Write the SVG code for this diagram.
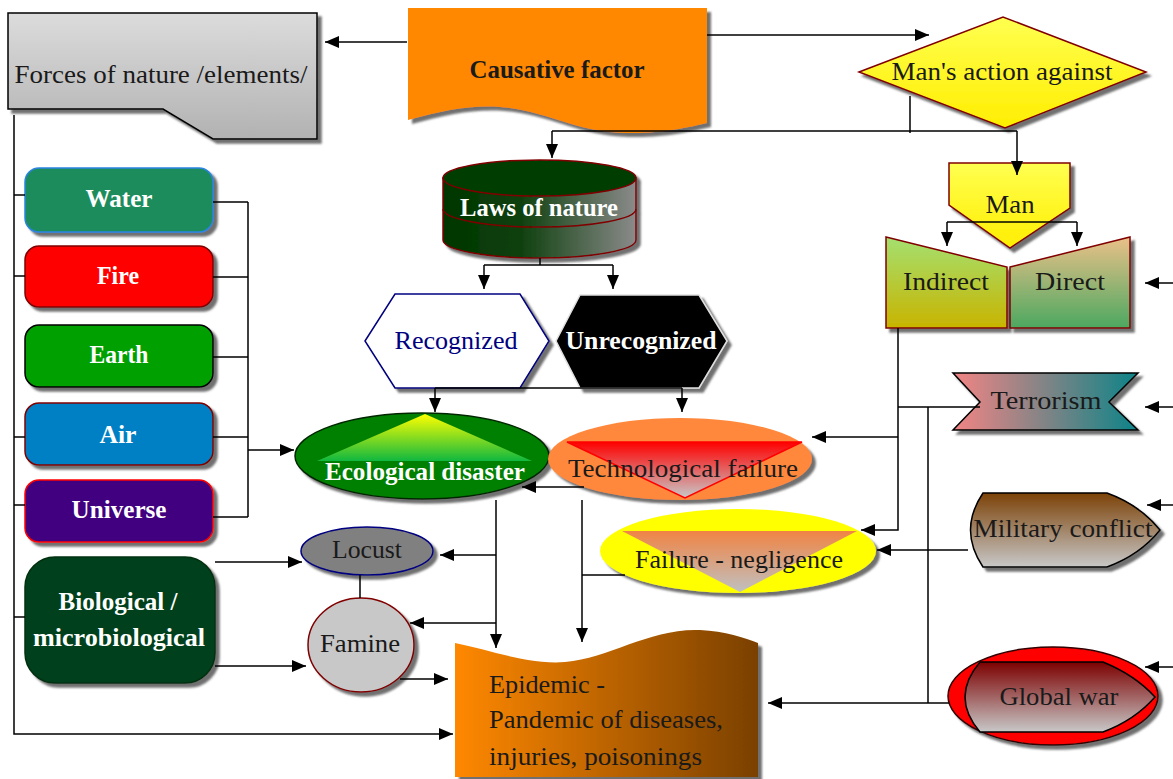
<svg xmlns="http://www.w3.org/2000/svg" width="1173" height="779" viewBox="0 0 1173 779">
<defs>
<style>
.t{font-family:"Liberation Serif","Times New Roman",serif;font-size:25px;fill:#1a1a1a;text-anchor:middle}
.w{fill:#fff;font-weight:bold}
.ts{text-anchor:start}
.c{fill:none;stroke:#000;stroke-width:1.5}
.a{marker-end:url(#ah)}
.n{filter:url(#sh)}
</style>
<filter id="sh" x="-10%" y="-10%" width="125%" height="130%">
<feDropShadow dx="4" dy="4" stdDeviation="0.8" flood-color="#404040" flood-opacity="0.75"/>
</filter>
<marker id="ah" markerUnits="userSpaceOnUse" markerWidth="14" markerHeight="12" refX="14" refY="6" orient="auto">
<path d="M0,0 L14,6 L0,12 Z" fill="#000"/>
</marker>
<linearGradient id="gForces" x1="0" y1="0" x2="0" y2="1"><stop offset="0" stop-color="#dcdcdc"/><stop offset="1" stop-color="#b2b2b2"/></linearGradient>
<linearGradient id="gLaws" x1="0" y1="0" x2="1" y2="0"><stop offset="0" stop-color="#003600"/><stop offset="0.4" stop-color="#0e400e"/><stop offset="1" stop-color="#8a8a8a"/></linearGradient>
<linearGradient id="gYel" x1="0" y1="0" x2="0" y2="1"><stop offset="0" stop-color="#ffff50"/><stop offset="1" stop-color="#ffee00"/></linearGradient>
<linearGradient id="gInd" x1="0" y1="0" x2="0" y2="1"><stop offset="0" stop-color="#a4e070"/><stop offset="1" stop-color="#c8b400"/></linearGradient>
<linearGradient id="gDir" x1="0" y1="0" x2="0" y2="1"><stop offset="0" stop-color="#eac088"/><stop offset="1" stop-color="#4ca860"/></linearGradient>
<linearGradient id="gTer" x1="0" y1="0" x2="1" y2="0"><stop offset="0" stop-color="#f48484"/><stop offset="1" stop-color="#0c8488"/></linearGradient>
<linearGradient id="gMil" x1="0" y1="0" x2="0" y2="1"><stop offset="0" stop-color="#7c4208"/><stop offset="1" stop-color="#c8c8c8"/></linearGradient>
<linearGradient id="gGlob" x1="0" y1="0" x2="0" y2="1"><stop offset="0" stop-color="#7c0000"/><stop offset="1" stop-color="#c8c8c8"/></linearGradient>
<linearGradient id="gEco" x1="0" y1="0" x2="0" y2="1"><stop offset="0" stop-color="#ffff00"/><stop offset="1" stop-color="#10b840"/></linearGradient>
<linearGradient id="gTech" x1="0" y1="0" x2="0" y2="1"><stop offset="0" stop-color="#ff0000"/><stop offset="1" stop-color="#c8c8c8"/></linearGradient>
<linearGradient id="gFail" x1="0" y1="0" x2="0" y2="1"><stop offset="0" stop-color="#f08444"/><stop offset="1" stop-color="#c0c0c0"/></linearGradient>
<linearGradient id="gEpi" x1="0" y1="0" x2="1" y2="0"><stop offset="0" stop-color="#ff8800"/><stop offset="1" stop-color="#7a4000"/></linearGradient>
</defs>
<rect width="1173" height="779" fill="#fff"/>

<g id="forces">
<path class="n" d="M8,13 L317,13 L317,139 L213,139 L163,109 L8,109 Z" fill="url(#gForces)" stroke="#000" stroke-width="1.5"/>
<text class="t" x="161" y="83" textLength="293" lengthAdjust="spacingAndGlyphs">Forces of nature /elements/</text>
</g>

<g id="causative">
<path class="n" d="M408,8 L707,8 L707,123 C690,127 660,134 625,133 C575,132 545,110 500,107 C470,105 445,110 408,120 Z" fill="#ff8800"/>
<text class="t" x="557" y="78" font-weight="bold" textLength="175" lengthAdjust="spacingAndGlyphs">Causative factor</text>
</g>

<g id="mans-action">
<path class="n" d="M859,72 L1003,17 L1146,72 L1005,128 Z" fill="url(#gYel)" stroke="#800000" stroke-width="1.5"/>
<text class="t" x="1002" y="80" textLength="221" lengthAdjust="spacingAndGlyphs">Man's action against</text>
</g>

<g id="laws">
<g class="n">
<path d="M443,178 L443,240 A96.5,18 0 0 0 636,240 L636,178 Z" fill="url(#gLaws)" stroke="#800000" stroke-width="1.5"/>
<path d="M443,209 A96.5,18 0 0 0 636,209" fill="none" stroke="#800000" stroke-width="1.5"/>
<ellipse cx="539.5" cy="178" rx="96.5" ry="18" fill="#003c00" stroke="#800000" stroke-width="1.5"/>
</g>
<text class="t w" x="539" y="216" textLength="158" lengthAdjust="spacingAndGlyphs">Laws of nature</text>
</g>

<g id="recognized">
<polygon class="n" points="365,341 395,294 520,294 549,341 520,388 395,388" fill="#fff" stroke="#000080" stroke-width="1.5"/>
<text class="t" x="456" y="349" style="fill:#000080" textLength="123" lengthAdjust="spacingAndGlyphs">Recognized</text>
</g>

<g id="unrecognized">
<polygon class="n" points="556,341 580,295 699,295 727,341 699,388 580,388" fill="#000" stroke="#e0e0e0" stroke-width="1.5"/>
<text class="t w" x="641" y="349" textLength="151" lengthAdjust="spacingAndGlyphs">Unrecognized</text>
</g>

<g id="water">
<rect class="n" x="25" y="168" width="188" height="64" rx="14" fill="#1a8c5c" stroke="#2a84e0" stroke-width="1.5"/>
<text class="t w" x="119" y="207" textLength="67" lengthAdjust="spacingAndGlyphs">Water</text>
</g>
<g id="fire">
<rect class="n" x="25" y="246" width="188" height="61" rx="14" fill="#ff0000" stroke="#800000" stroke-width="1.5"/>
<text class="t w" x="118" y="284" textLength="42" lengthAdjust="spacingAndGlyphs">Fire</text>
</g>
<g id="earth">
<rect class="n" x="25" y="325" width="188" height="62" rx="14" fill="#00a000" stroke="#000" stroke-width="1.5"/>
<text class="t w" x="119" y="363" textLength="59" lengthAdjust="spacingAndGlyphs">Earth</text>
</g>
<g id="air">
<rect class="n" x="25" y="403" width="188" height="62" rx="14" fill="#0080c4" stroke="#800000" stroke-width="1.5"/>
<text class="t w" x="118" y="443" textLength="37" lengthAdjust="spacingAndGlyphs">Air</text>
</g>
<g id="universe">
<rect class="n" x="25" y="480" width="188" height="62" rx="14" fill="#400080" stroke="#ff0000" stroke-width="1.5"/>
<text class="t w" x="119" y="518" textLength="95" lengthAdjust="spacingAndGlyphs">Universe</text>
</g>
<g id="biological">
<rect class="n" x="25" y="557" width="190" height="126" rx="30" fill="#00401a" stroke="#003010" stroke-width="1.5"/>
<text class="t w" x="118" y="610" textLength="119" lengthAdjust="spacingAndGlyphs">Biological /</text>
<text class="t w" x="119" y="646" textLength="172" lengthAdjust="spacingAndGlyphs">microbiological</text>
</g>

<g id="ecological">
<ellipse class="n" cx="422" cy="456" rx="127" ry="43" fill="#008000" stroke="#002800" stroke-width="1.5"/>
<polygon points="425,414 317,461 532,461" fill="url(#gEco)"/>
<text class="t w" x="425" y="480" textLength="200" lengthAdjust="spacingAndGlyphs">Ecological disaster</text>
</g>

<g id="technological">
<ellipse class="n" cx="680" cy="459" rx="132" ry="41" fill="#ff883c"/>
<polygon points="567,442 802,442 685,498" fill="url(#gTech)" stroke="#ff0000" stroke-width="1.5"/>
<text class="t" x="683" y="477" textLength="230" lengthAdjust="spacingAndGlyphs">Technological failure</text>
</g>

<g id="negligence">
<ellipse class="n" cx="738" cy="551" rx="138" ry="42" fill="#ffff00"/>
<polygon points="622,531 857,531 740,592" fill="url(#gFail)"/>
<text class="t" x="739" y="568" textLength="208" lengthAdjust="spacingAndGlyphs">Failure - negligence</text>
</g>

<g id="locust">
<ellipse class="n" cx="367" cy="551" rx="66" ry="24" fill="#808080" stroke="#000080" stroke-width="1.5"/>
<text class="t" x="367" y="558" textLength="70" lengthAdjust="spacingAndGlyphs">Locust</text>
</g>

<g id="famine">
<ellipse class="n" cx="361" cy="645" rx="53" ry="47" fill="#c8c8c8" stroke="#800000" stroke-width="1.5"/>
<text class="t" x="360" y="652" textLength="80" lengthAdjust="spacingAndGlyphs">Famine</text>
</g>

<g id="epidemic">
<path class="n" d="M455,643 C490,650 530,665 565,662 C610,658 650,628 700,630 C725,631 745,638 758,643 L758,777 L455,777 Z" fill="url(#gEpi)"/>
<text class="t ts" x="489" y="693" textLength="116" lengthAdjust="spacingAndGlyphs">Epidemic -</text>
<text class="t ts" x="489" y="728" textLength="234" lengthAdjust="spacingAndGlyphs">Pandemic of diseases,</text>
<text class="t ts" x="489" y="765" textLength="213" lengthAdjust="spacingAndGlyphs">injuries, poisonings</text>
</g>

<g id="man">
<polygon class="n" points="949,163 1070,163 1070,208 1010,248 949,205" fill="url(#gYel)" stroke="#800000" stroke-width="1.5"/>
<text class="t" x="1010" y="213" textLength="49" lengthAdjust="spacingAndGlyphs">Man</text>
</g>

<g id="indirect">
<polygon class="n" points="886,237 1007,267 1007,328 886,328" fill="url(#gInd)" stroke="#800000" stroke-width="1.5"/>
<text class="t" x="946" y="290" textLength="86" lengthAdjust="spacingAndGlyphs">Indirect</text>
</g>

<g id="direct">
<polygon class="n" points="1010,267 1130,237 1130,328 1010,328" fill="url(#gDir)" stroke="#800000" stroke-width="1.5"/>
<text class="t" x="1070" y="290" textLength="70" lengthAdjust="spacingAndGlyphs">Direct</text>
</g>

<g id="terrorism">
<polygon class="n" points="953,373 1138,373 1109,402 1138,430 953,430 980,402" fill="url(#gTer)" stroke="#000" stroke-width="1.5"/>
<text class="t" x="1046" y="409" textLength="111" lengthAdjust="spacingAndGlyphs">Terrorism</text>
</g>

<g id="military">
<path class="n" d="M983,493 L1107,493 Q1140,505 1160,530 Q1140,555 1107,567 L983,567 Q958,530 983,493 Z" fill="url(#gMil)" stroke="#000" stroke-width="1.5"/>
<text class="t" x="1063" y="537" textLength="179" lengthAdjust="spacingAndGlyphs">Military conflict</text>
</g>

<g id="global-war">
<ellipse class="n" cx="1053" cy="696" rx="105" ry="49" fill="#ff0000" stroke="#300000" stroke-width="1.5"/>
<path d="M980,662 L1103,662 Q1135,675 1155,697 Q1135,720 1103,732 L980,732 Q950,697 980,662 Z" fill="url(#gGlob)" stroke="#000" stroke-width="1.5"/>
<text class="t" x="1059" y="705" textLength="119" lengthAdjust="spacingAndGlyphs">Global war</text>
</g>

<g id="connectors">
<path class="c a" d="M407,42 L325,42"/>
<path class="c a" d="M707,35 L929,35"/>
<path class="c" d="M552,131 L1017,131 M910,96 L910,133"/>
<path class="c a" d="M552,131 L552,158"/>
<path class="c a" d="M1017,131 L1017,175"/>
<path class="c" d="M540,258 L540,265 M484,265 L613,265"/>
<path class="c a" d="M484,265 L484,289"/>
<path class="c a" d="M613,265 L613,289"/>
<path class="c" d="M435,388 L682,388"/>
<path class="c a" d="M435,388 L435,412"/>
<path class="c a" d="M682,388 L682,412"/>
<path class="c" d="M213,202 L248,202 M213,277 L248,277 M213,357 L248,357 M213,437 L248,437 M213,517 L248,517 M248,202 L248,517"/>
<path class="c a" d="M248,450 L294,450"/>
<path class="c" d="M14,195 L25,195 M14,276 L25,276 M14,437 L25,437 M14,505 L25,505 M14,617 L25,617"/>
<path class="c a" d="M14,115 L14,734 L453,734"/>
<path class="c a" d="M215,562 L302,562"/>
<path class="c a" d="M215,666 L306,666"/>
<path class="c" d="M360,575 L360,598"/>
<path class="c a" d="M400,679 L448,679"/>
<path class="c a" d="M496,500 L496,648"/>
<path class="c a" d="M496,555 L440,555"/>
<path class="c a" d="M496,623 L410,623"/>
<path class="c a" d="M584,487 L522,487"/>
<path class="c a" d="M582,500 L582,642"/>
<path class="c" d="M582,575 L625,575"/>
<path class="c a" d="M898,328 L898,530 L861,530"/>
<path class="c a" d="M898,437 L812,437"/>
<path class="c" d="M980,407 L898,407 M928,407 L928,703"/>
<path class="c a" d="M949,703 L768,703"/>
<path class="c a" d="M968,550 L877,550"/>
<path class="c" d="M947,222 L1077,222"/>
<path class="c a" d="M947,222 L947,246"/>
<path class="c a" d="M1077,222 L1077,246"/>
<path class="c a" d="M1173,283 L1145,283"/>
<path class="c a" d="M1173,407 L1145,407"/>
<path class="c a" d="M1173,505 L1147,505"/>
<path class="c a" d="M1173,667 L1145,667"/>
</g>
</svg>
